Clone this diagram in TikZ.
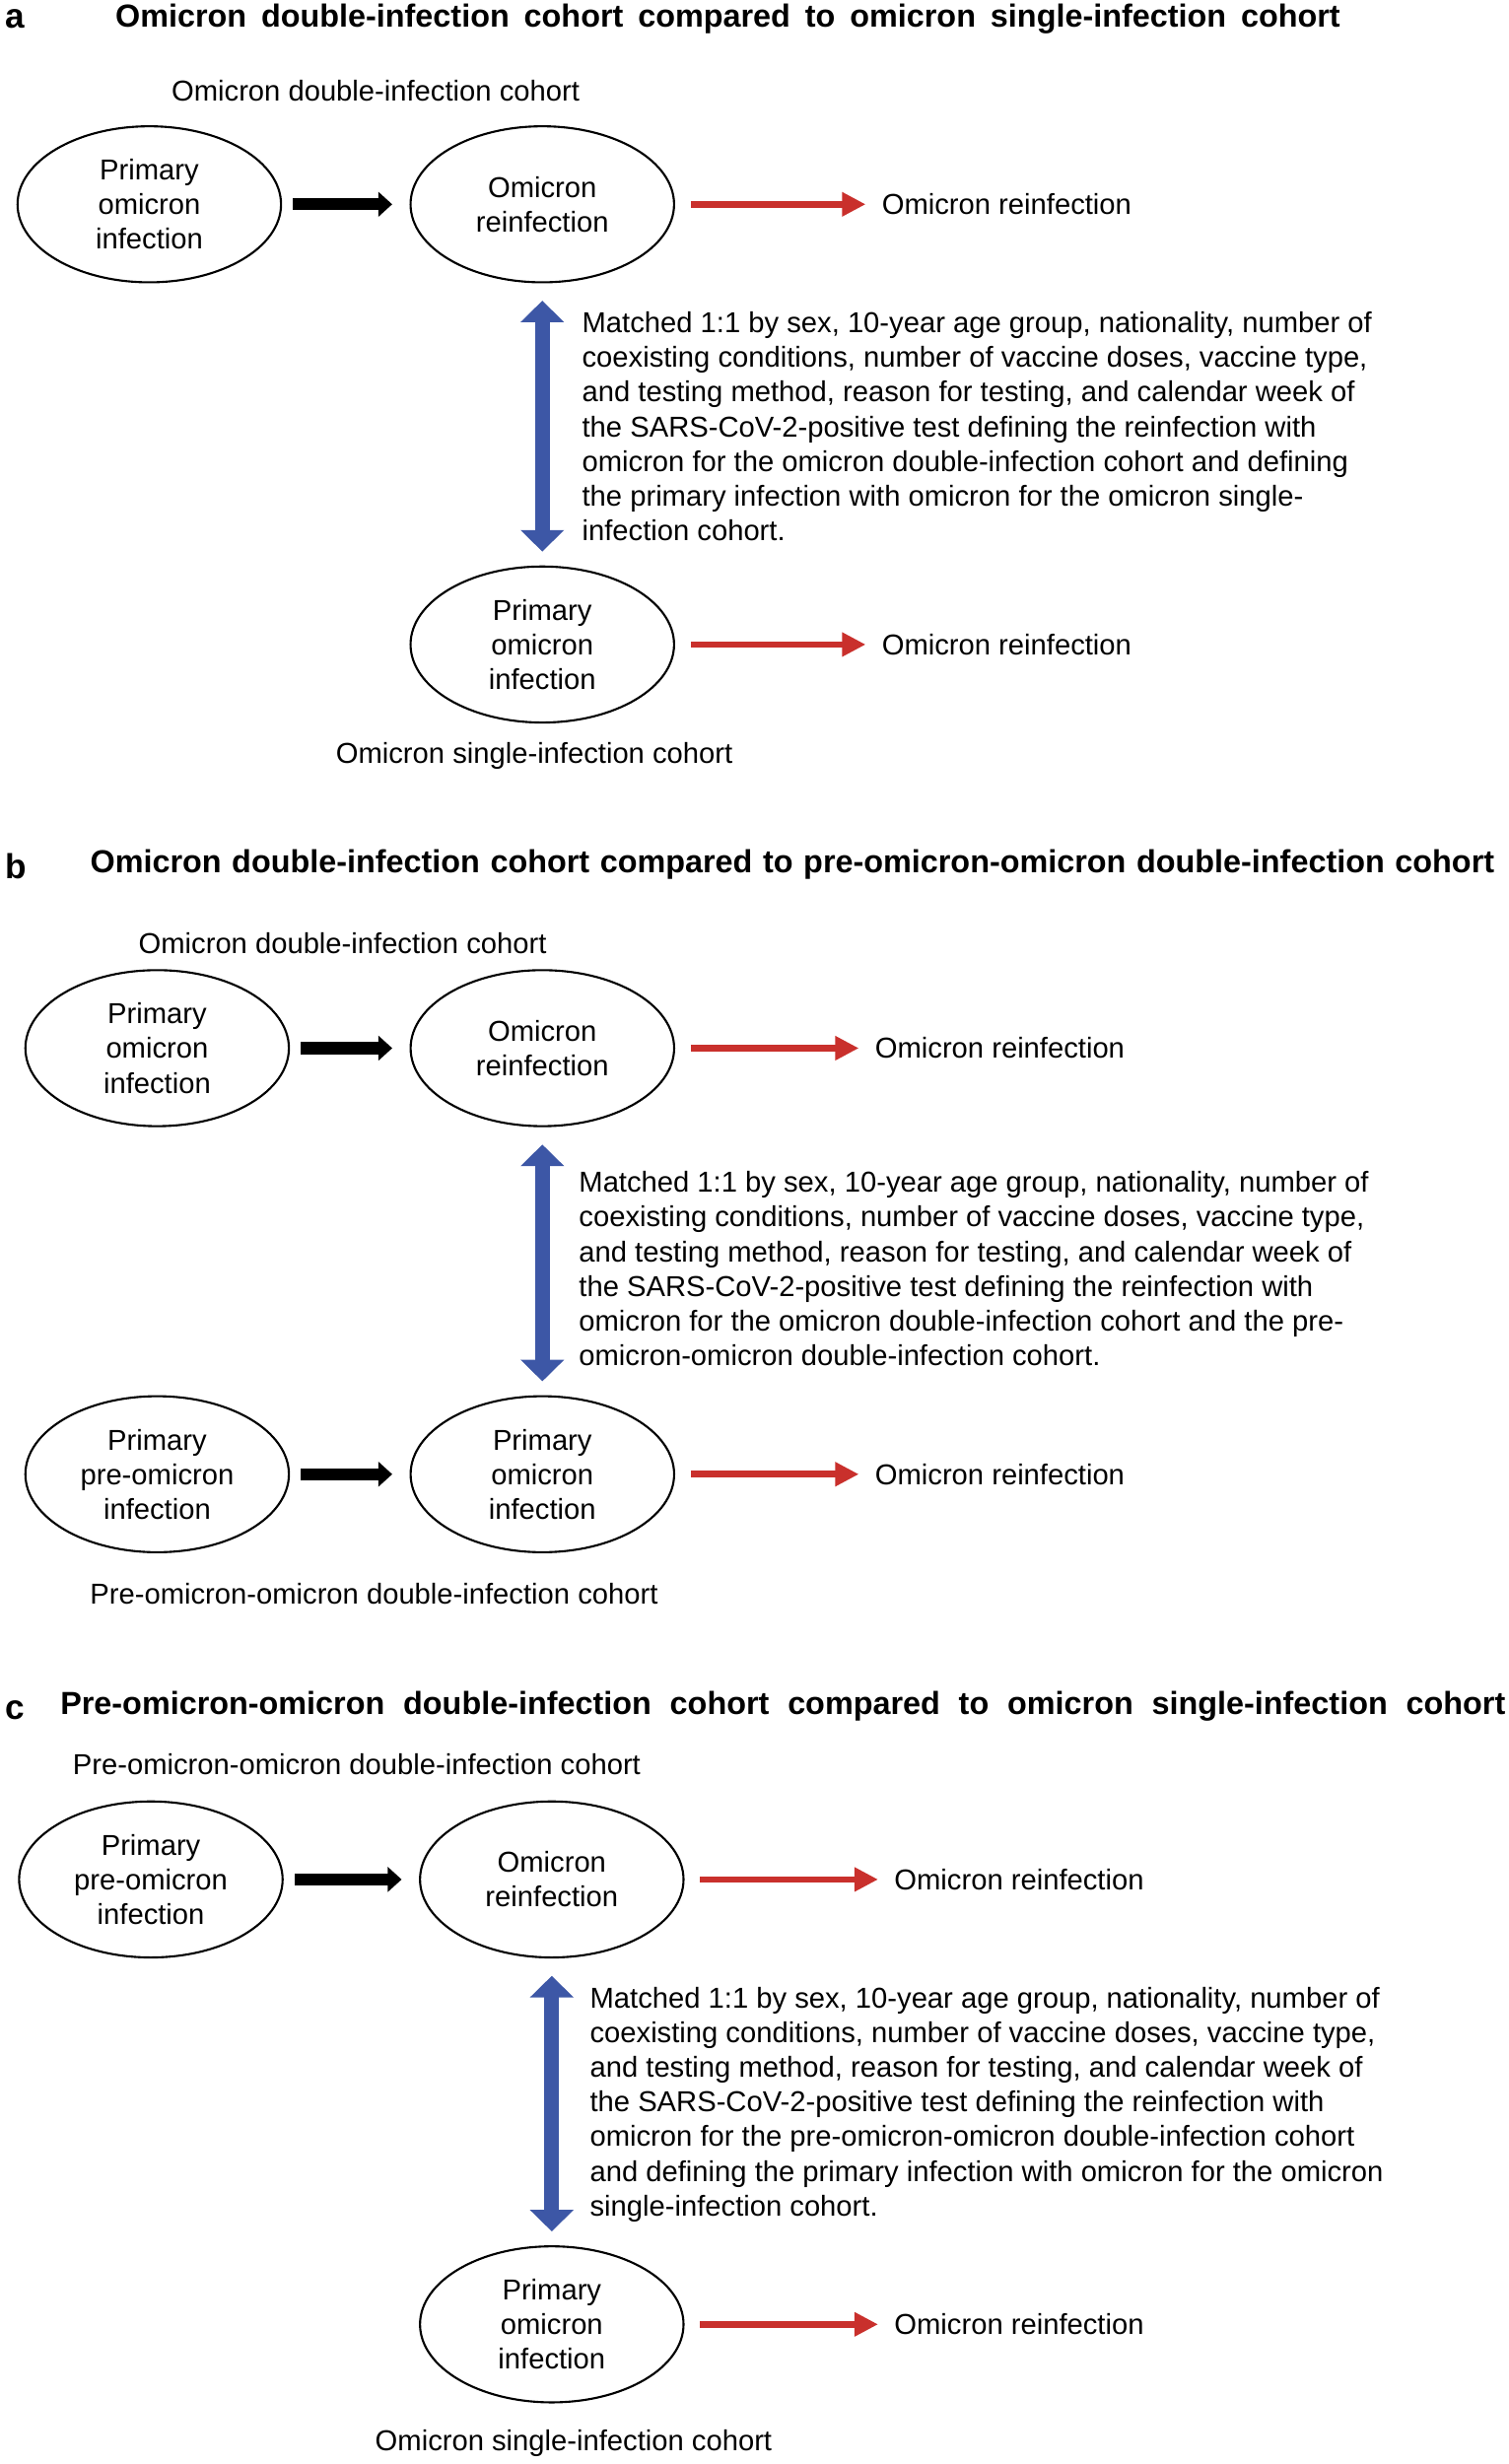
\documentclass[tikz,border=0pt]{standalone}
\usepackage{fontspec}
\setmainfont{Liberation Sans}
\usetikzlibrary{shapes.geometric,arrows.meta,positioning}
\definecolor{matchblue}{RGB}{61,87,166}
\definecolor{outred}{RGB}{201,48,44}
\newcommand{\txtfont}{\fontsize{8.3}{10}\selectfont}
\newcommand{\headfont}{\fontsize{9.2}{11}\selectfont\bfseries}
\newcommand{\panelfont}{\fontsize{10}{12}\selectfont\bfseries}
\tikzset{
    cohort/.style={ellipse, draw, line width=0.6pt, minimum width=76pt, minimum height=45pt, inner sep=0pt, align=center, font=\txtfont},
    cohortname/.style={inner sep=0pt, font=\txtfont},
    outcome/.style={anchor=west, inner sep=0pt, font=\txtfont},
    matchtext/.style={anchor=north west, align=left, inner sep=0pt, font=\txtfont},
    heading/.style={anchor=west, inner sep=0pt, font=\headfont},
    panel/.style={anchor=west, inner sep=0pt, font=\panelfont},
    seqline/.style={draw, line width=3.5pt, -{Triangle[length=4pt, width=7pt]}, shorten <=3.2pt, shorten >=5pt},
    redline/.style={draw, outred, line width=1.9pt, -{Triangle[length=6.8pt, width=6.6pt]}, shorten <=4.5pt, shorten >=4.5pt},
    matchline/.style={draw, matchblue, line width=4.2pt, {Triangle[length=6.2pt, width=12.2pt]}-{Triangle[length=6.2pt, width=12.2pt]}, shorten <=5pt, shorten >=4pt}
}
\begin{document}
\begin{tikzpicture}[x=0.0159375cm, y=-0.0159375cm]
    \useasboundingbox (0,0) rectangle (960,1568);

    \node [panel] (apanel) at (3,12) {a};
    \node [heading] (ahead) at (73,12) {\makebox[12.415cm][s]{Omicron double-infection cohort compared to omicron single-infection cohort}};
    \node [cohortname] (adoublename) at (239,58) {Omicron double-infection cohort};
    \node [cohort] (aprim) at (95,130) {Primary\\omicron\\infection};
    \node [cohort, right of=aprim, node distance=3.984cm] (areinf) {Omicron\\reinfection};
    \node [outcome, right=2.09cm of areinf] (aout) {Omicron reinfection};
    \node [matchtext] (amatch) at (370,198) {Matched 1:1 by sex, 10-year age group, nationality, number of\\coexisting conditions, number of vaccine doses, vaccine type,\\and testing method, reason for testing, and calendar week of\\the SARS-CoV-2-positive test defining the reinfection with\\omicron for the omicron double-infection cohort and defining\\the primary infection with omicron for the omicron single-\\infection cohort.};
    \node [cohort, below of=areinf, node distance=4.4625cm] (asingle) {Primary\\omicron\\infection};
    \node [outcome, right=2.09cm of asingle] (asingleout) {Omicron reinfection};
    \node [cohortname] (asinglename) at (340,481) {Omicron single-infection cohort};

    \path [seqline] (aprim) -- (areinf);
    \path [redline] (areinf) -- (aout);
    \path [matchline] (areinf) -- (asingle);
    \path [redline] (asingle) -- (asingleout);

    \node [panel] (bpanel) at (3,551) {b};
    \node [heading] (bhead) at (57,550) {\makebox[14.232cm][s]{Omicron double-infection cohort compared to pre-omicron-omicron double-infection cohort}};
    \node [cohortname] (bdoublename) at (218,600) {Omicron double-infection cohort};
    \node [cohort] (bprim) at (100,667) {Primary\\omicron\\infection};
    \node [cohort, right of=bprim, node distance=3.905cm] (breinf) {Omicron\\reinfection};
    \node [outcome, right=2.02cm of breinf] (bout) {Omicron reinfection};
    \node [matchtext] (bmatch) at (368,745) {Matched 1:1 by sex, 10-year age group, nationality, number of\\coexisting conditions, number of vaccine doses, vaccine type,\\and testing method, reason for testing, and calendar week of\\the SARS-CoV-2-positive test defining the reinfection with\\omicron for the omicron double-infection cohort and the pre-\\omicron-omicron double-infection cohort.};
    \node [cohort, below of=breinf, node distance=4.319cm] (bomicron) {Primary\\omicron\\infection};
    \node [cohort, left of=bomicron, node distance=3.905cm] (bpre) {Primary\\pre-omicron\\infection};
    \node [outcome, right=2.02cm of bomicron] (bpreout) {Omicron reinfection};
    \node [cohortname] (bprename) at (238,1014) {Pre-omicron-omicron double-infection cohort};

    \path [seqline] (bprim) -- (breinf);
    \path [redline] (breinf) -- (bout);
    \path [matchline] (breinf) -- (bomicron);
    \path [seqline] (bpre) -- (bomicron);
    \path [redline] (bomicron) -- (bpreout);

    \node [panel] (cpanel) at (3,1088) {c};
    \node [heading] (chead) at (38,1086) {\makebox[14.647cm][s]{Pre-omicron-omicron double-infection cohort compared to omicron single-infection cohort}};
    \node [cohortname] (cprename) at (227,1123) {Pre-omicron-omicron double-infection cohort};
    \node [cohort] (cpre) at (96,1196) {Primary\\pre-omicron\\infection};
    \node [cohort, right of=cpre, node distance=4.064cm] (creinf) {Omicron\\reinfection};
    \node [outcome, right=2.12cm of creinf] (cout) {Omicron reinfection};
    \node [matchtext] (cmatch) at (375,1264) {Matched 1:1 by sex, 10-year age group, nationality, number of\\coexisting conditions, number of vaccine doses, vaccine type,\\and testing method, reason for testing, and calendar week of\\the SARS-CoV-2-positive test defining the reinfection with\\omicron for the pre-omicron-omicron double-infection cohort\\and defining the primary infection with omicron for the omicron\\single-infection cohort.};
    \node [cohort, below of=creinf, node distance=4.51cm] (csingle) {Primary\\omicron\\infection};
    \node [outcome, right=2.12cm of csingle] (csingleout) {Omicron reinfection};
    \node [cohortname] (csinglename) at (365,1555) {Omicron single-infection cohort};

    \path [seqline] (cpre) -- (creinf);
    \path [redline] (creinf) -- (cout);
    \path [matchline] (creinf) -- (csingle);
    \path [redline] (csingle) -- (csingleout);
\end{tikzpicture}
\end{document}
